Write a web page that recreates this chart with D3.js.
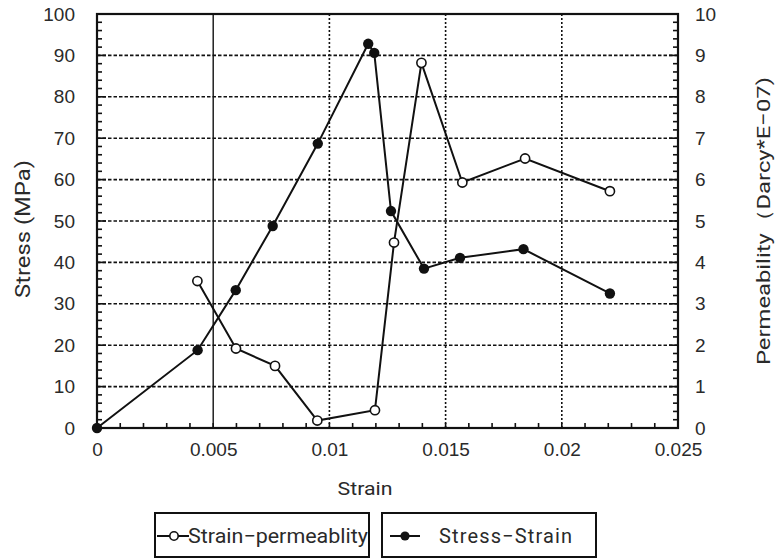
<!DOCTYPE html>
<html><head><meta charset="utf-8">
<script src="https://cdn.jsdelivr.net/npm/d3@7/dist/d3.min.js"></script>
<style>body{margin:0;background:#fff}svg{display:block}</style>
</head><body>
<svg id="c" width="777" height="559"></svg>
<script>
const stressStrain = [0, 0.00433, 0.00597, 0.00756, 0.0095, 0.01167, 0.01193, 0.01265, 0.01407, 0.01562, 0.01835, 0.02207];
const stressValues = [0, 18.8, 33.3, 48.8, 68.7, 92.8, 90.6, 52.4, 38.5, 41.1, 43.2, 32.5];
const permStrain = [0.00432, 0.00598, 0.00766, 0.00948, 0.01196, 0.01278, 0.01396, 0.01572, 0.01842, 0.02207];
const permValues = [3.55, 1.92, 1.5, 0.18, 0.43, 4.48, 8.82, 5.93, 6.51, 5.72];
const xTicks = [0, 0.005, 0.01, 0.015, 0.02, 0.025];
const xTickLabels = ["0", "0.005", "0.01", "0.015", "0.02", "0.025"];
const yTicks = [0, 10, 20, 30, 40, 50, 60, 70, 80, 90, 100];
const y2Ticks = [0, 1, 2, 3, 4, 5, 6, 7, 8, 9, 10];
const legendLabels = ["Strain\u2212permeablity", "Stress\u2212Strain"];

const svg = d3.select("#c");
const L = 97, R = 678, T = 14, B = 428;
const x = d3.scaleLinear().domain([0, 0.025]).range([L, R]);
const y = d3.scaleLinear().domain([0, 100]).range([B, T]);
const y2 = d3.scaleLinear().domain([0, 10]).range([B, T]);
const tickFont = "'Liberation Sans', Arial, sans-serif";
const narrow = "Roboto, 'Liberation Sans', sans-serif";
const txtCol = "#2a2a2a";

// horizontal grid
svg.append("g").selectAll("line").data(yTicks.filter(d => d > 0 && d < 100)).join("line")
  .attr("x1", L).attr("x2", R).attr("y1", d => y(d)).attr("y2", d => y(d))
  .attr("stroke", "#111").attr("stroke-width", 1.6).attr("stroke-dasharray", "3.5,2");
// vertical grid
svg.append("g").selectAll("line").data(xTicks.filter(d => d > 0 && d < 0.025)).join("line")
  .attr("x1", d => x(d)).attr("x2", d => x(d)).attr("y1", T).attr("y2", B)
  .attr("stroke", "#111").attr("stroke-width", d => d === 0.005 ? 1.4 : 1.6)
  .attr("stroke-dasharray", d => d === 0.005 ? null : "2,2");

// minor ticks
const yMinor = d3.range(0, 100.01, 2);
svg.append("g").selectAll("line").data(yMinor).join("line")
  .attr("x1", L).attr("x2", d => L + (d % 10 === 0 ? 9 : 5)).attr("y1", d => y(d)).attr("y2", d => y(d))
  .attr("stroke", "#111").attr("stroke-width", 1.6);
svg.append("g").selectAll("line").data(yMinor).join("line")
  .attr("x1", R).attr("x2", d => R - (d % 10 === 0 ? 9 : 5)).attr("y1", d => y(d)).attr("y2", d => y(d))
  .attr("stroke", "#111").attr("stroke-width", 1.6);
const xMinor = d3.range(0, 26).map(i => i * 0.001);
svg.append("g").selectAll("line").data(xMinor).join("line")
  .attr("x1", d => x(d)).attr("x2", d => x(d)).attr("y1", B).attr("y2", B - 5)
  .attr("stroke", "#111").attr("stroke-width", 1.6);

// frame
svg.append("rect").attr("x", L).attr("y", T).attr("width", R - L).attr("height", B - T)
  .attr("fill", "none").attr("stroke", "#111").attr("stroke-width", 2.2);

// tick labels via axes
const yAxis = d3.axisLeft(y).tickValues(yTicks).tickSize(0).tickPadding(22);
const gy = svg.append("g").attr("transform", `translate(${L},0)`).call(yAxis);
const y2Axis = d3.axisRight(y2).tickValues(y2Ticks).tickSize(0).tickPadding(17);
const gy2 = svg.append("g").attr("transform", `translate(${R},0)`).call(y2Axis);
const xAxis = d3.axisBottom(x).tickValues(xTicks).tickFormat((d, i) => xTickLabels[i]).tickSize(0).tickPadding(15);
const gx = svg.append("g").attr("transform", `translate(0,${B})`).call(xAxis);
[gy, gy2, gx].forEach(g => {
  g.select(".domain").remove();
  g.selectAll("text").attr("font-family", tickFont).attr("font-size", 19).attr("fill", txtCol);
});

// axis titles
function title(tx, ty, rot, size, len, str) {
  svg.append("text").attr("transform", `translate(${tx},${ty}) rotate(${rot})`).attr("text-anchor", "middle")
    .attr("font-family", narrow).attr("font-size", size).attr("fill", txtCol)
    .attr("textLength", len).attr("lengthAdjust", "spacingAndGlyphs").text(str);
}
title(30, 229, -90, 21, 138, "Stress (MPa)");
title(770, 221, -90, 19, 288, "Permeability\uFF08Darcy*E\u221207)");
title(365, 495, 0, 18, 55, "Strain");

// series
const stressData = stressStrain.map((s, i) => [s, stressValues[i]]);
const permData = permStrain.map((s, i) => [s, permValues[i]]);
svg.append("path").datum(stressData)
  .attr("d", d3.line().x(d => x(d[0])).y(d => y(d[1])))
  .attr("fill", "none").attr("stroke", "#111").attr("stroke-width", 2);
svg.append("path").datum(permData)
  .attr("d", d3.line().x(d => x(d[0])).y(d => y2(d[1])))
  .attr("fill", "none").attr("stroke", "#111").attr("stroke-width", 2);
svg.append("g").selectAll("circle").data(stressData).join("circle")
  .attr("cx", d => x(d[0])).attr("cy", d => y(d[1])).attr("r", 5.2).attr("fill", "#111");
svg.append("g").selectAll("circle").data(permData).join("circle")
  .attr("cx", d => x(d[0])).attr("cy", d => y2(d[1])).attr("r", 4.6)
  .attr("fill", "#fff").attr("stroke", "#111").attr("stroke-width", 1.6);

// legend
const lg = svg.append("g");
lg.append("rect").attr("x", 155).attr("y", 513).attr("width", 214).attr("height", 44)
  .attr("fill", "none").attr("stroke", "#111").attr("stroke-width", 2);
lg.append("rect").attr("x", 382).attr("y", 513).attr("width", 214).attr("height", 44)
  .attr("fill", "none").attr("stroke", "#111").attr("stroke-width", 2);
lg.append("line").attr("x1", 157).attr("x2", 189).attr("y1", 536).attr("y2", 536).attr("stroke", "#111").attr("stroke-width", 2);
lg.append("circle").attr("cx", 174).attr("cy", 536).attr("r", 4.2).attr("fill", "#fff").attr("stroke", "#111").attr("stroke-width", 1.6);
lg.append("text").attr("x", 188).attr("y", 543).attr("font-family", narrow).attr("font-size", 20).attr("fill", txtCol)
  .attr("textLength", 180).attr("lengthAdjust", "spacingAndGlyphs").text(legendLabels[0]);
lg.append("line").attr("x1", 390).attr("x2", 420).attr("y1", 536).attr("y2", 536).attr("stroke", "#111").attr("stroke-width", 2);
lg.append("circle").attr("cx", 405).attr("cy", 536).attr("r", 4.6).attr("fill", "#111");
lg.append("text").attr("x", 439).attr("y", 543).attr("font-family", narrow).attr("font-size", 20).attr("fill", txtCol)
  .attr("textLength", 133).attr("lengthAdjust", "spacing").text(legendLabels[1]);
</script>
</body></html>
